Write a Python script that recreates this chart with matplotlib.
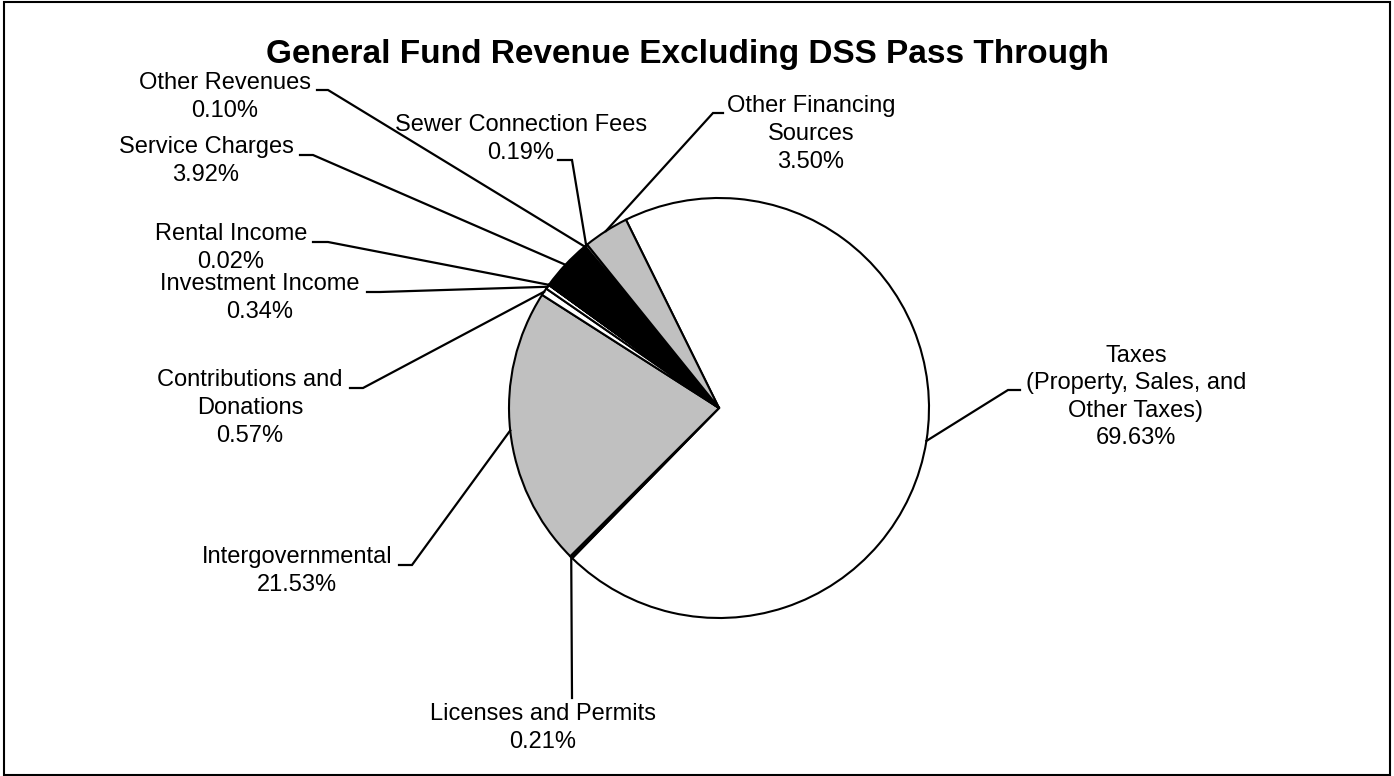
import numpy as np
import matplotlib as mpl
mpl.use("Agg")
import matplotlib.pyplot as plt
from matplotlib.patches import Rectangle

plt.rcParams["font.family"] = ["Liberation Sans", "DejaVu Sans"]

W, H = 1394, 776

# slices, in drawing order (clockwise from the top-left edge of Taxes)
names = ["Taxes\n(Property, Sales, and\nOther Taxes)", "Licenses and Permits", "Intergovernmental",
         "Contributions and\nDonations", "Investment Income", "Rental Income", "Service Charges",
         "Other Revenues", "Sewer Connection Fees", "Other Financing\nSources"]
shares = [69.63, 0.21, 21.53, 0.57, 0.34, 0.02, 3.92, 0.10, 0.19, 3.50]
fills = ["white", "black", "#c0c0c0", "white", "white", "#c0c0c0", "black", "white", "#c0c0c0", "#c0c0c0"]

# label layout in image pixels: block centre, stub (near end, far end)
lab_xy = [(1136, 397), (543, 728), (297, 571), (250, 408), (260, 298),
          (231, 248), (206, 161), (225, 97), (521, 139), (811, 134)]
stubs = [((1020, 390), (1008, 390)), ((572, 698), (572, 698)), ((399, 565), (412, 565)),
         ((350, 388), (363, 388)), ((367, 292), (380, 292)), ((313, 242), (328, 242)),
         ((300, 155), (313, 155)), ((317, 90), (328, 90)), ((558, 160), (572, 160)),
         ((723, 113), (713, 113))]

CX, CY, R = 719, 408, 210

fig = plt.figure(figsize=(W / 100, H / 100), dpi=100)
ax = fig.add_axes([0, 0, 1, 1])

wedges, _ = ax.pie(shares, colors=fills, startangle=116.3, counterclock=False,
                   center=(CX, H - CY), radius=R,
                   wedgeprops=dict(edgecolor="black", linewidth=1.5))

for w, name, val, (tx, ty), (s0, s1) in zip(wedges, names, shares, lab_xy, stubs):
    mid = np.deg2rad((w.theta1 + w.theta2) / 2)
    px, py = CX + R * np.cos(mid), (H - CY) + R * np.sin(mid)
    ax.plot([s0[0], s1[0], px], [H - s0[1], H - s1[1], py], color="black", lw=1.6,
            solid_joinstyle="miter", zorder=5)
    ax.text(tx, H - ty, "%s\n%.2f%%" % (name, val), ha="center", va="center",
            fontsize=17, linespacing=1.33)

ax.text(687, H - 55, "General Fund Revenue Excluding DSS Pass Through", ha="center",
        va="center", fontsize=24, fontweight="bold")

ax.add_patch(Rectangle((4, 1), W - 8, H - 3, fill=False, edgecolor="black", lw=1.5))

ax.set_xlim(0, W)
ax.set_ylim(0, H)
ax.set_aspect("auto")
ax.set_axis_off()

fig.savefig("out.png", dpi=100, facecolor="white")
